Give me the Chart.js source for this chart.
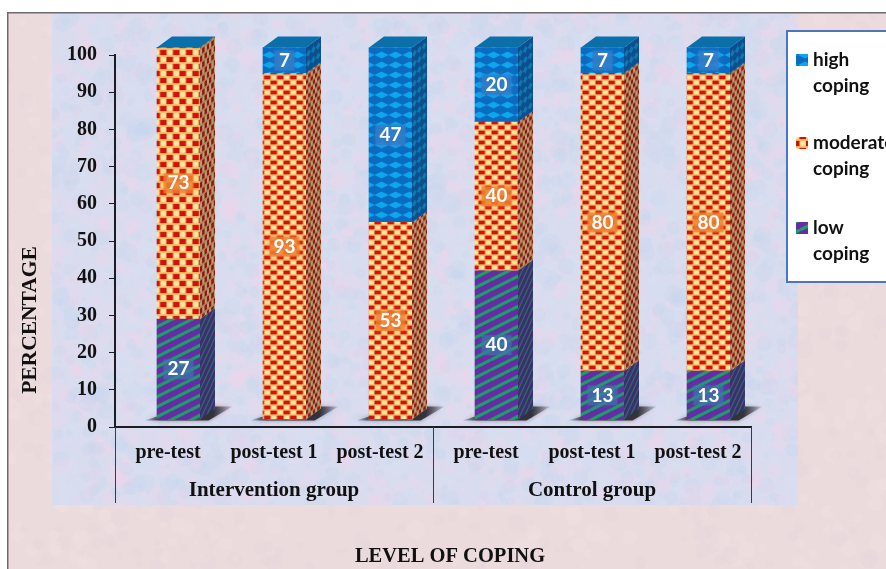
<!DOCTYPE html>
<html>
<head>
<meta charset="utf-8">
<style>
  html, body { margin: 0; padding: 0; background: #fff; }
  canvas { display: block; }
</style>
<script src="https://cdn.jsdelivr.net/npm/chart.js@4"></script>
</head>
<body>
<canvas id="chart" width="886" height="569"></canvas>
<script>
const categories = ["pre-test", "post-test 1", "post-test 2", "pre-test", "post-test 1", "post-test 2"];
const groups = ["Intervention group", "Control group"];
const lowValues = [27, 0, 0, 40, 13, 13];
const moderateValues = [73, 93, 53, 40, 80, 80];
const highValues = [0, 7, 47, 20, 7, 7];
const yTicks = [0, 10, 20, 30, 40, 50, 60, 70, 80, 90, 100];

// the 3D floor lifts the bars a little off the axis
const floorOffset = 2;
const SERIF = "'Liberation Serif', serif";
const SANS = "Lato, 'Open Sans', sans-serif";
const DEPTH_X = 15;
const DEPTH_Y = 11;
const BAR_SHIFT = 10.5;

function tile(w, h, paint) {
  const c = document.createElement("canvas");
  c.width = w;
  c.height = h;
  paint(c.getContext("2d"), w, h);
  return c;
}

function lowTile() {
  return tile(20, 10, (g, w, h) => {
    g.fillStyle = "#672ba6";
    g.fillRect(0, 0, w, h);
    g.lineWidth = 3.2;
    g.strokeStyle = "#18a264";
    for (let k = -1; k <= 2; k++) {
      g.beginPath();
      g.moveTo(0, k * h);
      g.lineTo(w, (k - 1) * h);
      g.stroke();
    }
  });
}

function moderateTile(h) {
  return tile(13, h, (g, w) => {
    const rowH = h / 2;
    g.fillStyle = "#f0c670";
    g.fillRect(0, 0, w, h);
    [[0, 0], [6.5, rowH]].forEach(([x, y]) => {
      // red block, cream button beside it, wrapped across the tile edge
      g.fillStyle = "#d40f0c";
      g.fillRect(x, y + rowH * 0.12, 6.5, rowH * 0.76);
      if (x + 6.5 > w) g.fillRect(x - w, y + rowH * 0.12, 6.5, rowH * 0.76);
      const cx = (x + 9.75) % w;
      g.fillStyle = "#fbe6a0";
      g.beginPath();
      g.ellipse(cx, y + rowH * 0.5, 2.7, rowH * 0.34, 0, 0, Math.PI * 2);
      g.fill();
    });
  });
}

function highTile() {
  return tile(14, 10, (g, w, h) => {
    g.fillStyle = "#0a6cc0";
    g.fillRect(0, 0, w, h);
    g.fillStyle = "#0ea6ee";
    g.beginPath();
    g.moveTo(0, h / 2);
    g.lineTo(w / 2, 1.5);
    g.lineTo(w, h / 2);
    g.lineTo(w / 2, h - 1.5);
    g.closePath();
    g.fill();
  });
}

const canvas = document.getElementById("chart");
const ctx = canvas.getContext("2d");
const lowPattern = ctx.createPattern(lowTile(), "repeat");
const modTall = ctx.createPattern(moderateTile(14), "repeat");
const modFlat = ctx.createPattern(moderateTile(10), "repeat");
const highPattern = ctx.createPattern(highTile(), "repeat");
const modFills = [modTall, modFlat, modFlat, modFlat, modFlat, modFlat];

const lowRanges = lowValues.map(v => [floorOffset, floorOffset + v]);
const moderateRanges = moderateValues.map((v, i) => [lowRanges[i][1], lowRanges[i][1] + v]);
const highRanges = highValues.map((v, i) => [moderateRanges[i][1], moderateRanges[i][1] + v]);

// mottled paper behind the chart, fixed sequence so it looks the same each run
function mottle(g, x, y, w, h, colors, count, maxR) {
  let seed = 12345;
  const next = () => {
    seed = (seed * 1103515 + 12345) % 2147483648;
    return seed / 2147483648;
  };
  g.save();
  g.beginPath();
  g.rect(x, y, w, h);
  g.clip();
  for (let i = 0; i < count; i++) {
    g.fillStyle = colors[i % colors.length];
    g.beginPath();
    g.arc(x + next() * w, y + next() * h, 1.5 + next() * maxR, 0, Math.PI * 2);
    g.fill();
  }
  g.restore();
}

const backdrop = {
  id: "backdrop",
  beforeDraw(chart) {
    const g = chart.ctx;
    g.fillStyle = "#fff";
    g.fillRect(0, 0, 886, 569);
    g.fillStyle = "#ecdbdd";
    g.fillRect(7, 12, 879, 557);
    mottle(g, 7, 12, 879, 557, ["rgba(248,232,232,.14)", "rgba(226,205,212,.12)"], 1500, 8);
    g.fillStyle = "#d9dcee";
    g.fillRect(52, 12, 746, 493);
    mottle(g, 52, 12, 746, 493, ["rgba(196,214,240,.24)", "rgba(238,214,234,.26)", "rgba(216,224,244,.2)"], 5000, 8);
    g.fillStyle = "#6e6a6c";
    g.fillRect(7, 12, 879, 1.5);
    g.fillRect(7, 12, 1.5, 557);
  }
};

function eachSegment(chart, fn) {
  chart.data.datasets.forEach((ds, d) => {
    chart.getDatasetMeta(d).data.forEach((bar, i) => {
      const props = bar.getProps(["x", "y", "base", "width"], true);
      fn(ds, props, i, d);
    });
  });
}

const bars3d = {
  id: "bars3d",
  beforeDatasetsDraw(chart) {
    const g = chart.ctx;
    g.save();
    g.translate(BAR_SHIFT, 0);
    // floor shadows
    chart.getDatasetMeta(0).data.forEach(bar => {
      const { x, base } = bar.getProps(["x", "base"], true);
      const grad = g.createLinearGradient(x - 34, 0, x + 54, 0);
      grad.addColorStop(0, "rgba(50,50,60,.15)");
      grad.addColorStop(0.18, "rgba(45,45,55,.95)");
      grad.addColorStop(0.78, "rgba(45,45,55,.95)");
      grad.addColorStop(1, "rgba(50,50,60,.1)");
      g.save();
      g.shadowColor = "rgba(50,50,60,.5)";
      g.shadowBlur = 4;
      g.fillStyle = grad;
      g.beginPath();
      g.moveTo(x - 34, base + 1);
      g.lineTo(x + 30, base + 1);
      g.lineTo(x + 54, base - 13);
      g.lineTo(x + 10, base - 13);
      g.closePath();
      g.fill();
      g.restore();
    });
  },
  afterDatasetsDraw(chart) {
    const g = chart.ctx;
    eachSegment(chart, (ds, p, i) => {
      if (Math.abs(p.base - p.y) < 0.5) return;
      const right = p.x + p.width / 2;
      const fill = Array.isArray(ds.backgroundColor) ? ds.backgroundColor[i] : ds.backgroundColor;
      g.save();
      g.transform(DEPTH_X / p.width, -DEPTH_Y / p.width, 0, 1, right, 0);
      g.fillStyle = fill;
      g.fillRect(0, p.y, p.width, p.base - p.y);
      g.fillStyle = "rgba(20,20,40,.32)";
      g.fillRect(0, p.y, p.width, p.base - p.y);
      g.restore();
    });
    // lid on top of each stack
    const top = chart.getDatasetMeta(2).data;
    top.forEach(bar => {
      const { x, y, width } = bar.getProps(["x", "y", "width"], true);
      const left = x - width / 2;
      g.fillStyle = "#0b6fa9";
      g.beginPath();
      g.moveTo(left, y);
      g.lineTo(left + width, y);
      g.lineTo(left + width + DEPTH_X, y - DEPTH_Y);
      g.lineTo(left + DEPTH_X, y - DEPTH_Y);
      g.closePath();
      g.fill();
    });
    // value labels with their soft tinted plates
    eachSegment(chart, (ds, p, i) => {
      const v = ds.sourceValues[i];
      if (!v) return;
      const cy = (p.y + p.base) / 2;
      const plateW = v < 10 ? 20 : 30;
      g.save();
      g.shadowColor = ds.plateColor;
      g.shadowBlur = 7;
      g.fillStyle = ds.plateColor;
      g.fillRect(p.x - plateW / 2, cy - 10, plateW, 20);
      g.restore();
      g.fillStyle = "#fff";
      g.font = "bold 19px " + SANS;
      g.textAlign = "center";
      g.textBaseline = "middle";
      g.fillText(String(v), p.x, cy);
    });
    g.restore();
  }
};

const annotations = {
  id: "annotations",
  afterDraw(chart) {
    const g = chart.ctx;
    const area = chart.chartArea;
    // group separators under the axis
    const groupScale = chart.scales.x2;
    const edges = [area.left, (area.left + area.right) / 2, area.right];
    g.strokeStyle = "#3a3a44";
    g.lineWidth = 1;
    edges.forEach(x => {
      g.beginPath();
      g.moveTo(Math.round(x) + 0.5, area.bottom);
      g.lineTo(Math.round(x) + 0.5, groupScale.bottom - 2);
      g.stroke();
    });

    g.fillStyle = "#111";
    g.font = "bold 20.5px " + SERIF;
    g.textAlign = "center";
    g.textBaseline = "middle";
    g.fillText("LEVEL OF COPING", 450, 557);
    g.save();
    g.translate(30, 320);
    g.rotate(-Math.PI / 2);
    g.font = "bold 21.5px " + SERIF;
    g.fillText("PERCENTAGE", 0, 0);
    g.restore();

    // legend box runs off the right edge like the original
    g.fillStyle = "#fff";
    g.fillRect(787, 31, 100, 251);
    g.strokeStyle = "#4a76bd";
    g.lineWidth = 2;
    g.strokeRect(787, 31, 110, 251);
    const entries = [[2, 60], [1, 143], [0, 228]];
    entries.forEach(([d, y]) => {
      const ds = chart.data.datasets[d];
      const words = ds.label.split(" ");
      g.fillStyle = d === 1 ? modTall : ds.backgroundColor;
      g.fillRect(796, y - 6, 12, 12);
      g.fillStyle = "#111";
      g.font = "bold 19px " + SANS;
      g.textAlign = "left";
      g.textBaseline = "middle";
      g.fillText(words[0], 813, y);
      g.fillText(words[1], 813, y + 26);
    });
  }
};

new Chart(canvas, {
  type: "bar",
  data: {
    labels: categories,
    datasets: [
      { label: "low coping", data: lowRanges, sourceValues: lowValues, backgroundColor: lowPattern, plateColor: "rgba(60,120,170,.6)" },
      { label: "moderate coping", data: moderateRanges, sourceValues: moderateValues, backgroundColor: modFills, plateColor: "rgba(238,128,48,.75)" },
      { label: "high coping", data: highRanges, sourceValues: highValues, backgroundColor: highPattern, plateColor: "rgba(50,125,200,.8)" }
    ]
  },
  plugins: [backdrop, bars3d, annotations],
  options: {
    responsive: false,
    animation: false,
    clip: false,
    layout: { padding: { left: 0, right: 135, top: 55, bottom: 64 } },
    datasets: { bar: { barThickness: 43, grouped: false, borderWidth: 0 } },
    plugins: { legend: { display: false }, tooltip: { enabled: false } },
    scales: {
      x: {
        type: "category",
        position: "bottom",
        grid: { display: false },
        border: { color: "#1c1c24", width: 2 },
        ticks: { font: { family: SERIF, weight: "bold", size: 20 }, color: "#111", maxRotation: 0, autoSkip: false, padding: 6 },
        afterFit(s) { s.height = 38; }
      },
      x2: {
        type: "category",
        position: "bottom",
        labels: groups,
        offset: true,
        grid: { display: false },
        border: { display: false },
        ticks: { font: { family: SERIF, weight: "bold", size: 21 }, color: "#111", maxRotation: 0, autoSkip: false, padding: 5 },
        afterFit(s) { s.height = 40; }
      },
      y: {
        min: 0,
        max: 100,
        afterBuildTicks(s) { s.ticks = yTicks.map(value => ({ value })); },
        grid: { drawOnChartArea: false, color: "#1c1c24", tickLength: 6, lineWidth: 1 },
        border: { color: "#1c1c24", width: 2 },
        ticks: { font: { family: SERIF, weight: "bold", size: 20 }, color: "#111", padding: 12 },
        afterFit(s) { s.width = 115; }
      }
    }
  }
});
</script>
</body>
</html>
